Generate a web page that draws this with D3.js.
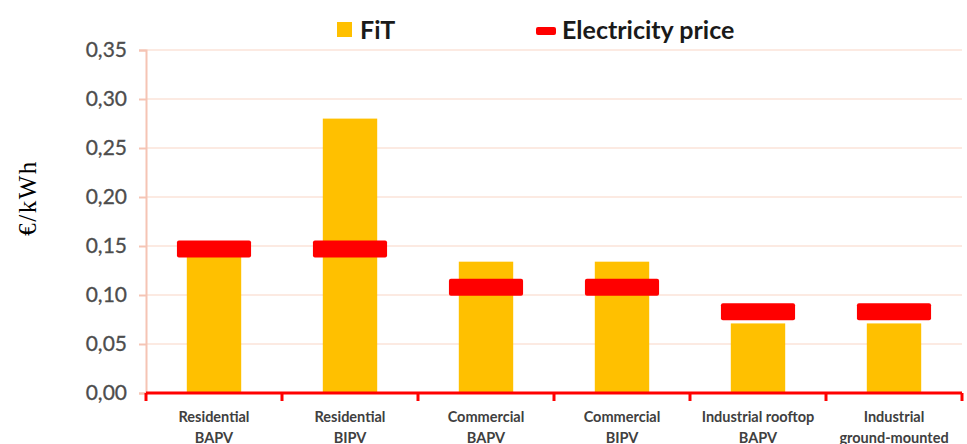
<!DOCTYPE html>
<html>
<head>
<meta charset="utf-8">
<script src="https://cdn.jsdelivr.net/npm/d3@7"></script>
<style>
  body { margin: 0; background: #fff; }
  svg { display: block; }
</style>
</head>
<body>
<div id="chart"></div>
<script>
// categories (two-line labels) and values
const categories = [
  ["Residential", "BAPV"],
  ["Residential", "BIPV"],
  ["Commercial", "BAPV"],
  ["Commercial", "BIPV"],
  ["Industrial rooftop", "BAPV"],
  ["Industrial", "ground-mounted"]
];
const fit = [0.14, 0.28, 0.134, 0.134, 0.071, 0.071];
const electricityPrice = [0.147, 0.147, 0.108, 0.108, 0.083, 0.083];
const yTicks = [0, 0.05, 0.10, 0.15, 0.20, 0.25, 0.30, 0.35];

const width = 967, height = 444;
const orange = "#FFC000", red = "#FF0000";

const svg = d3.select("#chart").append("svg")
  .attr("width", width)
  .attr("height", height);

const x = d3.scaleBand()
  .domain(categories.map((d, i) => i))
  .range([146, 962]);

const y = d3.scaleLinear()
  .domain([0, 0.35])
  .range([393, 50]);

// gridlines
svg.append("g")
  .selectAll("line")
  .data(yTicks.slice(1))
  .join("line")
  .attr("x1", 146).attr("x2", 962)
  .attr("y1", d => y(d)).attr("y2", d => y(d))
  .attr("stroke", "#fbe3d8")
  .attr("stroke-width", 1.5);

// y axis
const yAxis = svg.append("g")
  .attr("transform", "translate(146,0)")
  .call(d3.axisLeft(y).tickValues(yTicks).tickSize(7).tickPadding(12)
    .tickFormat(d => d3.format(".2f")(d).replace(".", ",")));
yAxis.select(".domain").attr("stroke", "#f5c4b4").attr("stroke-width", 2);
yAxis.selectAll(".tick line").attr("stroke", "#f5c4b4").attr("stroke-width", 2);
yAxis.selectAll(".tick text")
  .attr("fill", "#4d4d4d")
  .attr("font-family", "Lato, 'Open Sans', sans-serif")
  .attr("font-size", 21)
  .attr("stroke", "#4d4d4d")
  .attr("stroke-width", 0.3);

// FiT bars
const barW = x.bandwidth() * 0.4;
svg.append("g")
  .selectAll("rect")
  .data(fit)
  .join("rect")
  .attr("x", (d, i) => x(i) + (x.bandwidth() - barW) / 2)
  .attr("y", d => y(d))
  .attr("width", barW)
  .attr("height", d => y(0) - y(d))
  .attr("fill", orange);

// x axis (red baseline with band ticks)
const xAxis = svg.append("g")
  .attr("transform", "translate(0,393)");
xAxis.append("line")
  .attr("x1", 146).attr("x2", 962)
  .attr("stroke", red).attr("stroke-width", 3);
xAxis.selectAll("line.tk")
  .data(d3.range(categories.length + 1))
  .join("line")
  .attr("class", "tk")
  .attr("x1", i => i < categories.length ? x(i) : x.range()[1])
  .attr("x2", i => i < categories.length ? x(i) : x.range()[1])
  .attr("y1", 0).attr("y2", 8)
  .attr("stroke", red).attr("stroke-width", 3);

const lbl = xAxis.selectAll("text")
  .data(categories)
  .join("text")
  .attr("text-anchor", "middle")
  .attr("font-family", "Lato, 'Open Sans', sans-serif")
  .attr("font-weight", "bold")
  .attr("font-size", 14.5)
  .attr("fill", "#404040");
lbl.each(function(d, i) {
  const t = d3.select(this);
  d.forEach((line, j) => {
    t.append("tspan")
      .attr("x", x(i) + x.bandwidth() / 2)
      .attr("y", 29 + j * 21)
      .text(line);
  });
});

// electricity price markers
const markW = x.bandwidth() * 0.545;
svg.append("g")
  .selectAll("rect")
  .data(electricityPrice)
  .join("rect")
  .attr("x", (d, i) => x(i) + (x.bandwidth() - markW) / 2)
  .attr("y", d => y(d) - 8.5)
  .attr("width", markW)
  .attr("height", 17)
  .attr("rx", 2)
  .attr("fill", red);

// y axis title
svg.append("text")
  .attr("transform", "translate(36,198) rotate(-90)")
  .attr("text-anchor", "middle")
  .attr("font-family", "'Liberation Serif', 'DejaVu Serif', serif")
  .attr("font-size", 25)
  .attr("letter-spacing", 1.5)
  .attr("fill", "#000")
  .text("€/kWh");

// legend
const legend = svg.append("g")
  .attr("font-family", "Lato, 'Open Sans', sans-serif")
  .attr("font-weight", "bold")
  .attr("font-size", 25)
  .attr("fill", "#1a1a1a");
legend.append("rect")
  .attr("x", 337).attr("y", 22).attr("width", 15).attr("height", 15)
  .attr("fill", orange);
legend.append("text").attr("x", 360).attr("y", 39).text("FiT");
legend.append("rect")
  .attr("x", 536).attr("y", 27).attr("width", 20).attr("height", 8).attr("rx", 2)
  .attr("fill", red);
legend.append("text").attr("x", 562).attr("y", 39).text("Electricity price");
</script>
</body>
</html>
